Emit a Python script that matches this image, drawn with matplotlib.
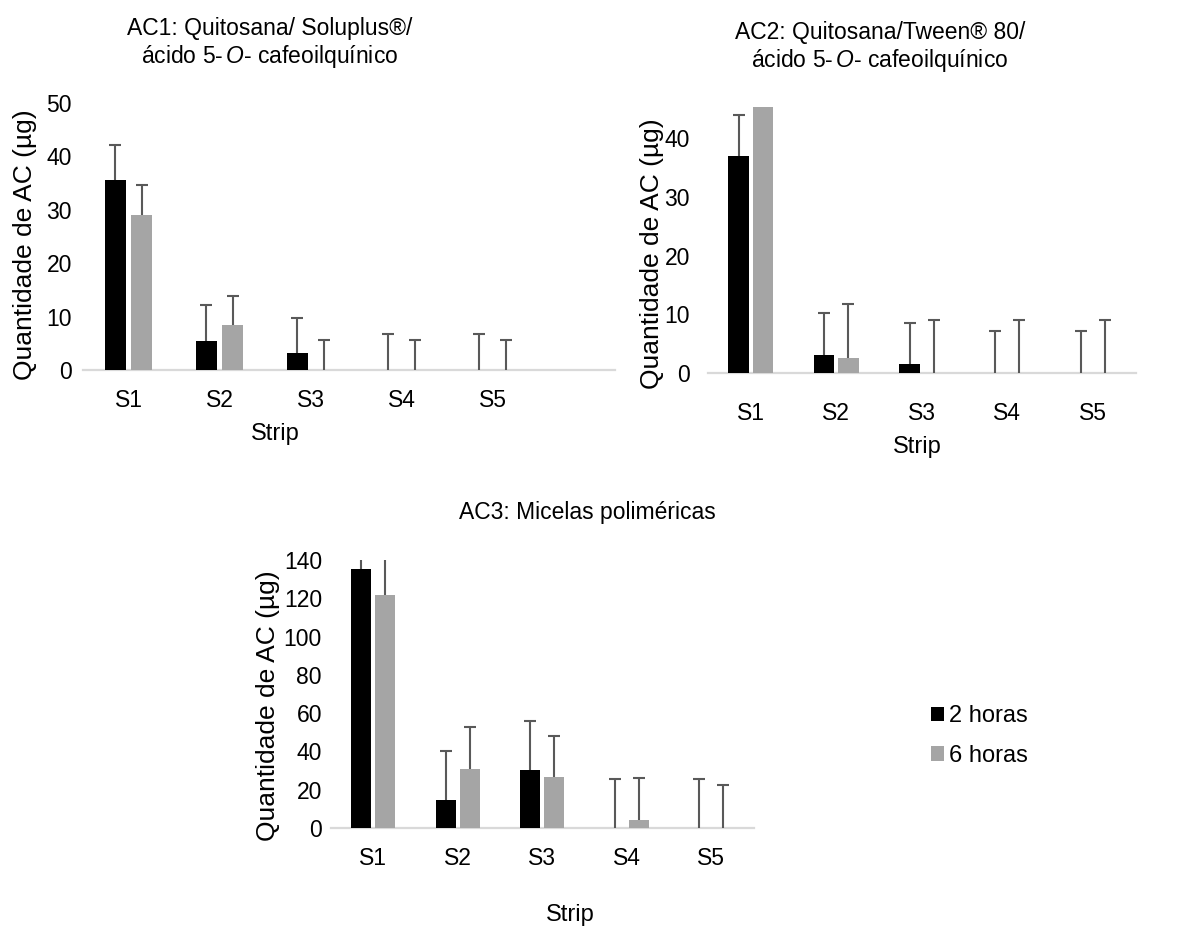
import numpy as np
import matplotlib.pyplot as plt
from matplotlib.patches import Patch

plt.rcParams['font.family'] = ['Liberation Sans', 'DejaVu Sans']
plt.rcParams['mathtext.fontset'] = 'custom'
plt.rcParams['mathtext.rm'] = 'Liberation Sans'
plt.rcParams['mathtext.it'] = 'Liberation Sans:italic'

W, H = 1197, 926

strips = ["S1", "S2", "S3", "S4", "S5"]
series = ["2 horas", "6 horas"]

# AC1 values (ug) and upper error bars
ac1_2h = [35.5, 5.4, 3.1, 0, 0]
ac1_2h_err = [6.7, 6.8, 6.6, 6.75, 6.75]
ac1_6h = [29.1, 8.4, 0, 0, 0]
ac1_6h_err = [5.6, 5.5, 5.6, 5.6, 5.6]

# AC2
ac2_2h = [37.0, 3.1, 1.5, 0, 0]
ac2_2h_err = [7.0, 7.1, 7.1, 7.1, 7.1]
ac2_6h = [47.0, 2.55, 0, 0, 0]
ac2_6h_err = [6.0, 9.2, 9.1, 9.1, 9.1]

# AC3
ac3_2h = [135.5, 14.8, 30.1, 0, 0]
ac3_2h_err = [12.0, 25.5, 25.6, 25.5, 25.5]
ac3_6h = [121.5, 31.0, 26.4, 4.3, 0]
ac3_6h_err = [25.0, 22.0, 21.9, 21.8, 22.3]

BLACK = "#000000"
GRAY = "#a5a5a5"
ERR = "#595959"
AXIS = "#d9d9d9"

fig = plt.figure(figsize=(W / 100, H / 100), dpi=100)


def px_axes(l, r, t, b):
    # axes from pixel box of the original picture
    return fig.add_axes([l / W, 1 - b / H, (r - l) / W, (b - t) / H])


def plus_errorbar(ax, x, y, err):
    # only the upper half of the error bar, like Excel's "plus" direction
    zeros = np.zeros(len(x))
    _, caps, _ = ax.errorbar(x, y, yerr=[zeros, err], fmt='none', ecolor=ERR,
                             elinewidth=1.5, capsize=4.5, capthick=1.5,
                             zorder=3)
    caps[0].set_visible(False)


def draw_panel(ax, v2, e2, v6, e6, xmax, ymax, ystep, xpad, ypad,
               ylab_xy, xlab_xy):
    x = np.arange(len(strips))
    off, width = 0.143, 0.24
    ax.bar(x - off, v2, width, color=BLACK, zorder=2)
    ax.bar(x + off, v6, width, color=GRAY, zorder=2)
    plus_errorbar(ax, x - off, v2, e2)
    plus_errorbar(ax, x + off, v6, e6)
    ax.set_xlim(-0.5, xmax)
    ax.set_ylim(0, ymax)
    ax.set_yticks(np.arange(0, ymax + 0.01, ystep))
    ax.set_xticks(x)
    ax.set_xticklabels(strips)
    for s in ['top', 'right', 'left']:
        ax.spines[s].set_visible(False)
    ax.spines['bottom'].set_color(AXIS)
    ax.spines['bottom'].set_linewidth(1.6)
    ax.spines['bottom'].set_zorder(1)
    ax.tick_params(axis='both', length=0, labelsize=16.5)
    ax.tick_params(axis='x', pad=xpad)
    ax.tick_params(axis='y', pad=ypad)
    ax.set_ylabel("Quantidade de AC (µg)", fontsize=19, va='center')
    ax.yaxis.set_label_coords(*ylab_xy)
    ax.set_xlabel("Strip", fontsize=17, va='center')
    ax.xaxis.set_label_coords(*xlab_xy)
    ax.set_facecolor('none')


ax1 = px_axes(83, 615, 103, 370)
draw_panel(ax1, ac1_2h, ac1_2h_err, ac1_6h, ac1_6h_err, 5.346, 50, 10,
           14, 8, (-0.109, 0.468), (0.361, -0.24))

ax2 = px_axes(708, 1135.5, 107, 373)
draw_panel(ax2, ac2_2h, ac2_2h_err, ac2_6h, ac2_6h_err, 4.5, 45.3, 10,
           21, 13, (-0.131, 0.447), (0.489, -0.278))

ax3 = px_axes(331, 753.5, 560, 828)
draw_panel(ax3, ac3_2h, ac3_2h_err, ac3_6h, ac3_6h_err, 4.5, 140, 20,
           14, 6.5, (-0.149, 0.455), (0.566, -0.325))

fig.text(270 / W, 1 - 43 / H,
         "AC1: Quitosana/ Soluplus®/\nácido 5-$\\,\\mathit{O}$- cafeoilquínico",
         ha='center', va='center', fontsize=16.5, linespacing=1.15)
fig.text(880 / W, 1 - 48 / H,
         "AC2: Quitosana/Tween® 80/\nácido 5-$\\,\\mathit{O}$- cafeoilquínico",
         ha='center', va='center', fontsize=16.5, linespacing=1.15)
fig.text(587 / W, 1 - 513 / H, "AC3: Micelas poliméricas",
         ha='center', va='center', fontsize=16.5)

handles = [Patch(facecolor=BLACK), Patch(facecolor=GRAY)]
fig.legend(handles, series, loc='center left',
           bbox_to_anchor=(931 / W, 1 - 736 / H), frameon=False,
           fontsize=17, handlelength=0.55, handleheight=0.55,
           handletextpad=0.2, labelspacing=0.75, borderpad=0,
           borderaxespad=0)

fig.savefig("out.png", dpi=100)
